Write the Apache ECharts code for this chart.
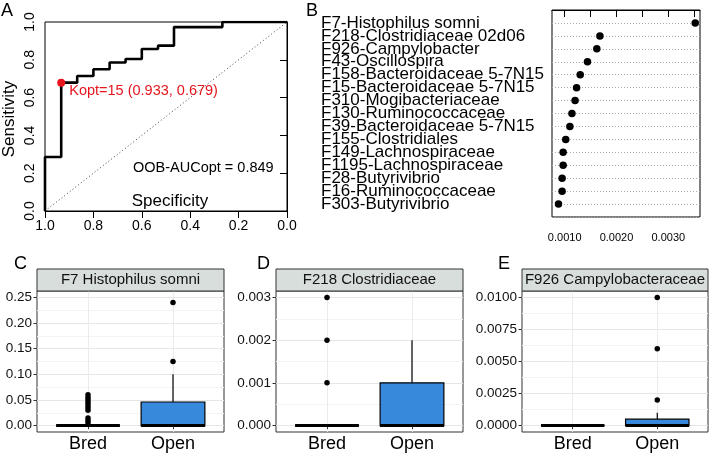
<!DOCTYPE html>
<html><head><meta charset="utf-8">
<script src="https://cdn.jsdelivr.net/npm/echarts@6/dist/echarts.min.js"></script>
<style>html,body{margin:0;padding:0;background:#fff}#c{width:709px;height:453px}</style>
</head><body><div id="c"></div>
<script>
// ---------- Panel A: ROC curve ----------
const rocSpecificity = [1, 1, 0.933, 0.933, 0.867, 0.867, 0.8, 0.8, 0.733, 0.733, 0.667, 0.667, 0.6, 0.6, 0.533, 0.533, 0.467, 0.467, 0.267, 0.267, 0];
const rocSensitivity = [0, 0.286, 0.286, 0.679, 0.679, 0.714, 0.714, 0.75, 0.75, 0.786, 0.786, 0.804, 0.804, 0.857, 0.857, 0.875, 0.875, 0.973, 0.973, 1, 1];
const diagSpecificity = [1, 0];
const diagSensitivity = [0, 1];
const koptK = 15, koptSpec = 0.933, koptSens = 0.679;
const oobAuc = 0.849;

// ---------- Panel B: importance dot chart ----------
const featureNames = ["F7-Histophilus somni","F218-Clostridiaceae 02d06","F926-Campylobacter","F43-Oscillospira","F158-Bacteroidaceae 5-7N15","F15-Bacteroidaceae 5-7N15","F310-Mogibacteriaceae","F130-Ruminococcaceae","F39-Bacteroidaceae 5-7N15","F155-Clostridiales","F149-Lachnospiraceae","F1195-Lachnospiraceae","F28-Butyrivibrio","F16-Ruminococcaceae","F303-Butyrivibrio"];
const featureImportance = [0.00352, 0.00168, 0.00162, 0.00144, 0.00130, 0.00123, 0.00120, 0.00114, 0.00110, 0.00102, 0.00097, 0.00097, 0.00095, 0.00095, 0.00088];
const importanceTicks = [0.0010, 0.0015, 0.0020, 0.0025, 0.0030, 0.0035];
const importanceLabels = [0.0010, 0.0020, 0.0030];

// ---------- Panels C-E: boxplots ----------
const groups = ["Bred", "Open"];
const cTitle = "F7 Histophilus somni";
const cBoxBred = [0, 0, 0, 0, 0];          // low, q1, median, q3, high
const cBoxOpen = [0, 0, 0, 0.046, 0.10];
const cOutBred = [0.06, 0.055, 0.05, 0.045, 0.04, 0.035, 0.03, 0.015, 0.01, 0.005];
const cOutOpen = [0.125, 0.24];
const cTicks = [0, 0.05, 0.10, 0.15, 0.20, 0.25];

const dTitle = "F218 Clostridiaceae";
const dBoxBred = [0, 0, 0, 0, 0];
const dBoxOpen = [0, 0, 0, 0.001, 0.002];
const dOutBred = [0.001, 0.002, 0.003];
const dOutOpen = [];
const dTicks = [0, 0.001, 0.002, 0.003];

const eTitle = "F926 Campylobacteraceae";
const eBoxBred = [0, 0, 0, 0, 0];
const eBoxOpen = [0, 0, 0, 0.0005, 0.001];
const eOutBred = [];
const eOutOpen = [0.002, 0.006, 0.01];
const eTicks = [0, 0.0025, 0.005, 0.0075, 0.01];

const FONT = "'Liberation Sans', Arial, Helvetica, sans-serif";
const chart = echarts.init(document.getElementById('c'), null, {renderer: 'canvas'});

function zip(a, b) { return a.map((v, i) => [v, b[i]]); }
function minors(t) { const r = []; for (let i = 0; i < t.length - 1; i++) r.push((t[i] + t[i + 1]) / 2); return r; }
function expand(t) { const lo = 0, hi = t[t.length - 1]; const e = (hi - lo) * 0.05; return [lo - e, hi + e]; }

const boxPanels = [
  {left: 37, width: 187, ticks: cTicks, dec: 2, title: cTitle, boxes: [cBoxBred, cBoxOpen], outs: [cOutBred, cOutOpen]},
  {left: 276, width: 187, ticks: dTicks, dec: 3, title: dTitle, boxes: [dBoxBred, dBoxOpen], outs: [dOutBred, dOutOpen]},
  {left: 522, width: 186, ticks: eTicks, dec: 4, title: eTitle, boxes: [eBoxBred, eBoxOpen], outs: [eOutBred, eOutOpen]}
];
const boxTop = 291, boxHeight = 141;

const grids = [
  {left: 45, top: 22, width: 242, height: 189, show: true, borderColor: '#000', borderWidth: 1, backgroundColor: 'transparent', outerBoundsMode: 'none'},
  {left: 552, top: 10, width: 148, height: 207, show: true, borderColor: '#000', borderWidth: 1, backgroundColor: 'transparent', outerBoundsMode: 'none'}
];
boxPanels.forEach(p => grids.push({left: p.left, top: boxTop, width: p.width, height: boxHeight, show: true, borderColor: '#333', borderWidth: 1, backgroundColor: '#fff', outerBoundsMode: 'none'}));

const xAxes = [
  {gridIndex: 0, type: 'value', min: 0, max: 1, interval: 0.2, inverse: true,
   axisLine: {show: true, lineStyle: {color: '#000'}}, axisTick: {show: true, length: 7, lineStyle: {color: '#000'}},
   axisLabel: {fontSize: 14, color: '#000', margin: 8, fontFamily: FONT, formatter: v => v.toFixed(1)}, splitLine: {show: false}},
  {gridIndex: 1, type: 'value', min: 0.000755, max: 0.003612,
   axisLine: {show: true, lineStyle: {color: '#000'}}, axisTick: {show: true, length: 7, customValues: importanceTicks, lineStyle: {color: '#000'}},
   axisLabel: {fontSize: 11, color: '#000', margin: 15, fontFamily: FONT, customValues: importanceLabels, formatter: v => v.toFixed(4)}, splitLine: {show: false}}
];
const yAxes = [
  {gridIndex: 0, type: 'value', min: 0, max: 1, interval: 0.2,
   axisLine: {show: true, lineStyle: {color: '#000'}}, axisTick: {show: true, length: 7, lineStyle: {color: '#000'}},
   axisLabel: {fontSize: 14, color: '#000', margin: 8, rotate: 90, fontFamily: FONT, formatter: v => v.toFixed(1)}, splitLine: {show: false}},
  {gridIndex: 1, type: 'value', min: 0, max: 16, interval: 1, inverse: true,
   axisLine: {show: false}, axisTick: {show: false},
   axisLabel: {fontSize: 17, color: '#000', margin: 231, align: 'left', fontFamily: FONT, formatter: v => featureNames[v - 1] || ''},
   splitLine: {show: true, lineStyle: {color: '#aaa', type: [1, 2], width: 1}}}
];
boxPanels.forEach((p, i) => {
  const gi = i + 2;
  const [mn, mx] = expand(p.ticks);
  xAxes.push({gridIndex: gi, type: 'value', min: 0.4, max: 2.6,
    axisLine: {show: false}, axisTick: {show: true, length: 3.5, customValues: [1, 2], lineStyle: {color: '#333'}},
    axisLabel: {fontSize: 18, color: '#000', margin: 3, fontFamily: FONT, customValues: [1, 2], formatter: v => groups[v - 1]},
    splitLine: {show: true, lineStyle: {color: '#EBEBEB', width: 1}}});
  yAxes.push({gridIndex: gi, type: 'value', min: mn, max: mx,
    axisLine: {show: false}, axisTick: {show: true, length: 3.5, customValues: p.ticks, lineStyle: {color: '#333'}},
    axisLabel: {fontSize: 13.5, color: '#111', margin: 5, fontFamily: FONT, customValues: p.ticks, formatter: v => v.toFixed(p.dec)},
    splitLine: {show: true, lineStyle: {color: '#E6E6E6', width: 1}}});
});
boxPanels.forEach((p, i) => {
  const gi = i + 2;
  const [mn, mx] = expand(p.ticks);
  yAxes.push({gridIndex: gi, type: 'value', min: mn, max: mx, position: 'left',
    axisLine: {show: false}, axisTick: {show: false, customValues: minors(p.ticks)}, axisLabel: {show: false, customValues: minors(p.ticks)},
    splitLine: {show: true, lineStyle: {color: '#F3F3F3', width: 1}}});
});

function renderBox(params, api) {
  const x = api.value(0);
  const lo = api.coord([x, api.value(1)]);
  const q1 = api.coord([x, api.value(2)]);
  const med = api.coord([x, api.value(3)]);
  const q3 = api.coord([x, api.value(4)]);
  const hi = api.coord([x, api.value(5)]);
  const hw = api.size([0.75, 0])[0] / 2;
  return {type: 'group', children: [
    {type: 'line', shape: {x1: hi[0], y1: hi[1], x2: q3[0], y2: q3[1]}, style: {stroke: '#000', lineWidth: 1.2}},
    {type: 'line', shape: {x1: lo[0], y1: lo[1], x2: q1[0], y2: q1[1]}, style: {stroke: '#000', lineWidth: 1.2}},
    {type: 'rect', shape: {x: q3[0] - hw, y: q3[1], width: 2 * hw, height: q1[1] - q3[1]}, style: {fill: '#3789DC', stroke: '#000', lineWidth: 1.2}},
    {type: 'line', shape: {x1: med[0] - hw, y1: med[1], x2: med[0] + hw, y2: med[1]}, style: {stroke: '#000', lineWidth: 3}}
  ]};
}

const series = [
  {type: 'line', xAxisIndex: 0, yAxisIndex: 0, data: zip(diagSpecificity, diagSensitivity), showSymbol: false,
   lineStyle: {color: '#444', width: 1, type: [1, 2.5]}, z: 2},
  {type: 'line', xAxisIndex: 0, yAxisIndex: 0, data: zip(rocSpecificity, rocSensitivity), showSymbol: false,
   lineStyle: {color: '#000', width: 2.6}, z: 3},
  {type: 'scatter', xAxisIndex: 0, yAxisIndex: 0, data: [[koptSpec, koptSens]], symbolSize: 8, itemStyle: {color: '#E8141E', opacity: 1}, z: 4,
   label: {show: true, position: [12, 12], align: 'left', verticalAlign: 'middle', color: '#E8141E', fontSize: 14.5, fontFamily: FONT,
     formatter: () => 'Kopt=' + koptK + ' (' + koptSpec.toFixed(3) + ', ' + koptSens.toFixed(3) + ')'}},
  {type: 'scatter', xAxisIndex: 1, yAxisIndex: 1, data: featureImportance.map((v, i) => [v, i + 1]), symbolSize: 7.5, itemStyle: {color: '#000', opacity: 1}}
];
boxPanels.forEach((p, i) => {
  const gi = i + 2;
  series.push({type: 'custom', xAxisIndex: gi, yAxisIndex: gi, renderItem: renderBox,
    data: p.boxes.map((b, k) => [k + 1].concat(b)), encode: {x: 0, y: [1, 5]}, z: 3});
  const pts = [];
  p.outs.forEach((arr, k) => arr.forEach(v => pts.push([k + 1, v])));
  series.push({type: 'scatter', xAxisIndex: gi, yAxisIndex: gi, data: pts, symbolSize: 5.5, itemStyle: {color: '#000', opacity: 1}, z: 4});
});

const graphics = [
  {type: 'text', left: 1, top: 2, style: {text: 'A', fontSize: 18, fontFamily: FONT, fill: '#000'}},
  {type: 'text', left: 306, top: 2, style: {text: 'B', fontSize: 18, fontFamily: FONT, fill: '#000'}},
  {type: 'text', left: 14, top: 255, style: {text: 'C', fontSize: 18, fontFamily: FONT, fill: '#000'}},
  {type: 'text', left: 257, top: 255, style: {text: 'D', fontSize: 18, fontFamily: FONT, fill: '#000'}},
  {type: 'text', left: 498, top: 255, style: {text: 'E', fontSize: 18, fontFamily: FONT, fill: '#000'}},
  {type: 'text', x: 170, y: 201, style: {text: 'Specificity', fontSize: 17, fontFamily: FONT, fill: '#000', align: 'center', verticalAlign: 'middle'}, z: 10},
  {type: 'text', x: 9.5, y: 119, rotation: Math.PI / 2, style: {text: 'Sensitivity', fontSize: 17, fontFamily: FONT, fill: '#000', align: 'center', verticalAlign: 'middle'}},
  {type: 'text', x: 133, y: 168, style: {text: 'OOB-AUCopt = ' + oobAuc.toFixed(3), fontSize: 14.5, fontFamily: FONT, fill: '#000', align: 'left', verticalAlign: 'middle'}, z: 10}
];
boxPanels.forEach(p => {
  graphics.push({type: 'rect', shape: {x: p.left, y: 269, width: p.width, height: 22}, style: {fill: '#D8DEDC', stroke: '#333', lineWidth: 1}, z: 5});
  graphics.push({type: 'text', x: p.left + p.width / 2, y: 280, style: {text: p.title, fontSize: 15, fontFamily: FONT, fill: '#111', align: 'center', verticalAlign: 'middle'}, z: 6});
});

chart.setOption({
  animation: false,
  backgroundColor: '#fff',
  textStyle: {fontFamily: FONT},
  grid: grids,
  xAxis: xAxes,
  yAxis: yAxes,
  series: series,
  graphic: graphics
});
</script></body></html>
